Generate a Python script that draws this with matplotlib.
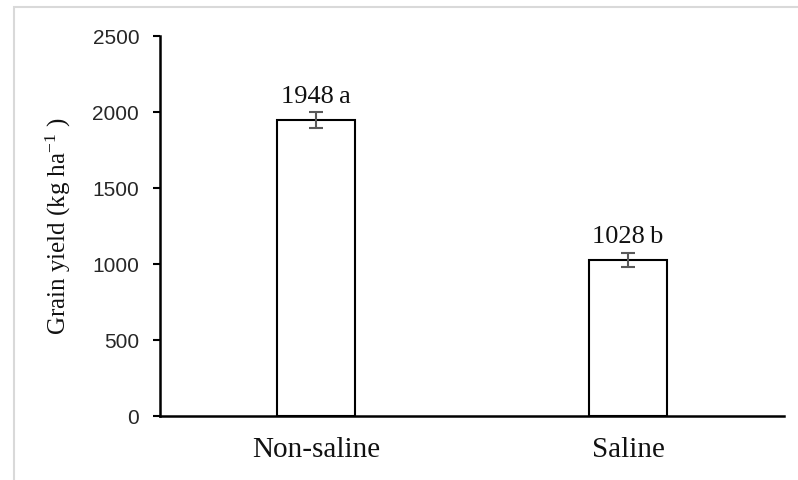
import matplotlib
matplotlib.use("Agg")
import numpy as np
from matplotlib import pyplot as plt
from matplotlib.patches import Rectangle

categories = ["Non-saline", "Saline"]
grain_yield = [1948, 1028]
yield_err = [50, 45]
letters = ["a", "b"]

plt.rcParams['mathtext.fontset'] = 'custom'
plt.rcParams['mathtext.rm'] = 'Liberation Serif'
plt.rcParams['mathtext.it'] = 'Liberation Serif:italic'

serif = ['Liberation Serif', 'DejaVu Serif']
sans = ['Liberation Sans', 'DejaVu Sans']

fig = plt.figure(figsize=(7.98, 4.8), dpi=100)
ax = fig.add_axes([0.2005, 0.1333, 0.782, 0.7917])

# light grey chart frame (only left/top visible)
fig.patches.append(Rectangle((14 / 798, -0.1), 1.2, 1 - 7 / 480 + 0.1,
                             transform=fig.transFigure, fill=False,
                             edgecolor='#d9d9d9', linewidth=1.5))

x = np.arange(len(categories))
ax.bar(x, grain_yield, width=0.25, color='white', edgecolor='black',
       linewidth=1.5, zorder=2)
ax.errorbar(x, grain_yield, yerr=yield_err, fmt='none', ecolor='#595959',
            elinewidth=1.5, capsize=5, capthick=1.5, zorder=3)

for xi, v, e, let in zip(x, grain_yield, yield_err, letters):
    ax.annotate(f"{v}\u2009{let}", (xi, v + e), xytext=(0, 7),
                textcoords='offset points', ha='center', va='baseline',
                fontsize=19, family=serif, color='#111111')

ax.set_xlim(-0.5, 1.5)
ax.set_ylim(0, 2500)
ax.set_yticks([0, 500, 1000, 1500, 2000, 2500])
ax.set_xticks(x)
ax.set_xticklabels(categories, fontsize=21, family=serif, color='#111111')
for lab in ax.get_yticklabels():
    lab.set_family(sans)
    lab.set_fontsize(15)
    lab.set_color('#262626')

ax.tick_params(axis='x', length=0, pad=15)
ax.tick_params(axis='y', length=5, width=1.5, pad=10, direction='out')
ax.spines['top'].set_visible(False)
ax.spines['right'].set_visible(False)
ax.spines['left'].set_linewidth(1.8)
ax.spines['bottom'].set_linewidth(1.8)

ax.set_ylabel("Grain yield (kg ha$^{-1}$ )", fontsize=18, family=serif,
              color='#111111', labelpad=14)

fig.savefig("out.png", dpi=100)
